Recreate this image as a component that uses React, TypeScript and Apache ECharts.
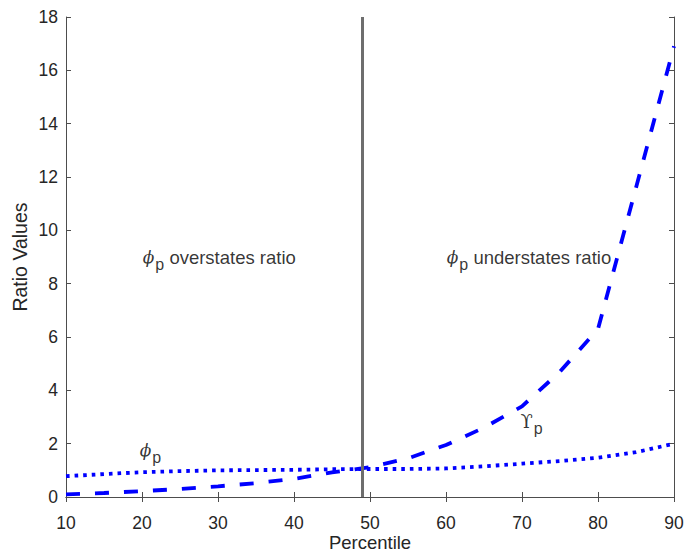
import React, { useEffect, useRef } from "react";
import * as echarts from "echarts";

const percentiles = [10, 15, 20, 25, 30, 35, 40, 45, 50, 55, 60, 65, 70, 75, 80, 85, 90];
const upsilonValues = [0.1, 0.15, 0.22, 0.3, 0.4, 0.52, 0.68, 0.92, 1.12, 1.45, 1.95, 2.6, 3.4, 4.7, 6.3, 11.6, 16.9];
const phiValues = [0.78, 0.86, 0.93, 0.97, 1.0, 1.01, 1.02, 1.04, 1.05, 1.05, 1.07, 1.15, 1.25, 1.35, 1.47, 1.68, 2.0];
const dividerPercentile = 49;
const xLabel = "Percentile";
const yLabel = "Ratio Values";
const annotations = [
  { x: 20.1, y: 9.0, text: "{phi|ϕ}{sub|p}{txt| overstates ratio}" },
  { x: 60.1, y: 9.0, text: "{phi|ϕ}{sub|p}{txt| understates ratio}" },
  { x: 19.7, y: 1.75, text: "{phi|ϕ}{sub|p}" },
  { x: 69.8, y: 2.85, text: "{ups|ϒ}{sub|p}" },
];

const FONT = "Liberation Sans, Arial, sans-serif";
const AXIS_COLOR = "#4d4d4d";
const TEXT_COLOR = "#262626";

export default function App() {
  const ref = useRef<HTMLDivElement>(null);
  useEffect(() => {
    if (!ref.current) return;
    const chart = echarts.init(ref.current, null, { renderer: "svg" });
    const tickStyle = { inside: true, length: 5, lineStyle: { color: AXIS_COLOR, width: 1 } };
    const lineStyleAxis = { show: true, lineStyle: { color: AXIS_COLOR, width: 1 } };
    const rich = {
      phi: { fontFamily: "DejaVu Serif", fontStyle: "italic", fontSize: 17, color: "#000" },
      ups: { fontFamily: "DejaVu Serif", fontSize: 18, color: "#000" },
      sub: { fontFamily: FONT, fontSize: 16, color: "#000", padding: [14, 0, 0, 1] },
      txt: { fontFamily: FONT, fontSize: 18.5, color: "#000" },
    };
    chart.setOption({
      animation: false,
      backgroundColor: "#ffffff",
      grid: {
        left: 66,
        right: 11,
        top: 17,
        bottom: 57,
        containLabel: false,
        outerBoundsMode: "none",
      },
      xAxis: [
        {
          type: "value",
          min: 10,
          max: 90,
          interval: 10,
          name: xLabel,
          nameLocation: "middle",
          nameGap: 36,
          nameMoveOverlap: false,
          nameTextStyle: { fontFamily: FONT, fontSize: 18.5, color: TEXT_COLOR, lineHeight: 18 },
          axisLine: lineStyleAxis,
          axisTick: tickStyle,
          axisLabel: { fontFamily: FONT, fontSize: 17.5, color: TEXT_COLOR, margin: 17 },
          splitLine: { show: false },
        },
        {
          type: "value",
          position: "top",
          min: 10,
          max: 90,
          interval: 10,
          axisLine: lineStyleAxis,
          axisTick: tickStyle,
          axisLabel: { show: false },
          splitLine: { show: false },
        },
      ],
      yAxis: [
        {
          type: "value",
          min: 0,
          max: 18,
          interval: 2,
          name: yLabel,
          nameLocation: "middle",
          nameGap: 36,
          nameMoveOverlap: false,
          nameTextStyle: { fontFamily: FONT, fontSize: 19.5, color: TEXT_COLOR },
          axisLine: lineStyleAxis,
          axisTick: tickStyle,
          axisLabel: { fontFamily: FONT, fontSize: 17.5, color: TEXT_COLOR, margin: 8 },
          splitLine: { show: false },
        },
        {
          type: "value",
          position: "right",
          min: 0,
          max: 18,
          interval: 2,
          axisLine: lineStyleAxis,
          axisTick: tickStyle,
          axisLabel: { show: false },
          splitLine: { show: false },
        },
      ],
      series: [
        {
          name: "upsilon",
          type: "line",
          data: percentiles.map((p, i) => [p, upsilonValues[i]]),
          showSymbol: false,
          symbol: "none",
          lineStyle: { color: "#0000ff", width: 3.8, type: [14, 15], cap: "butt" },
          z: 3,
        },
        {
          name: "phi",
          type: "line",
          data: percentiles.map((p, i) => [p, phiValues[i]]),
          showSymbol: false,
          symbol: "none",
          lineStyle: { color: "#0000ff", width: 3.8, type: [3.6, 5], cap: "butt" },
          z: 3,
        },
        {
          name: "divider",
          type: "line",
          data: [],
          z: 5,
          markLine: {
            silent: true,
            symbol: ["none", "none"],
            label: { show: false },
            lineStyle: { color: "#6e6e6e", width: 3, type: "solid" },
            data: [{ xAxis: dividerPercentile }],
          },
        },
        {
          name: "labels",
          type: "scatter",
          symbolSize: 0,
          z: 6,
          data: annotations.map((a) => ({
            value: [a.x, a.y],
            label: {
              show: true,
              position: "inside",
              align: "left",
              verticalAlign: "middle",
              formatter: a.text,
              rich,
            },
          })),
        },
      ],
    });
    return () => chart.dispose();
  }, []);
  return (
    <div
      ref={ref}
      style={{ position: "absolute", left: 0, top: 0, width: 685, height: 554 }}
    />
  );
}
